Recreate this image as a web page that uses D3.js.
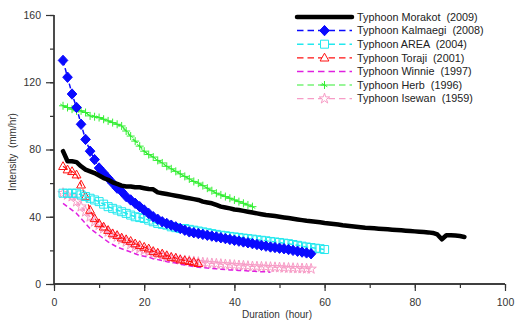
<!DOCTYPE html>
<html><head><meta charset="utf-8">
<script src="https://cdn.jsdelivr.net/npm/d3@7"></script>
<style>body{margin:0;background:#fff}svg{display:block}text{font-family:"Liberation Sans",Arial,sans-serif;white-space:pre}</style>
</head><body>
<svg id="c" width="515" height="323"></svg>
<script>
// ---- data ----
const morakotHours = d3.range(2, 92);
const morakot = [79,73,73,72.5,70,68,67,66,64.5,63,62,60.5,59.5,58.5,58,58,57.5,57.5,57,56.5,56.3,54.5,54,53.5,53,52.5,52,51.5,51,50.5,50,49,48.5,48,47,46,45.5,45,44.3,44,43.5,43,42.5,42,41.5,41,40.8,40.4,40,39.6,39.2,38.8,38.4,38,37.6,37.3,37,36.7,36.3,36,35.7,35.4,35,34.7,34.4,34.1,33.8,33.5,33.3,33.1,32.9,32.7,32.5,32.3,32.1,31.9,31.7,31.5,31.3,31.1,30.9,30.7,30.4,29.5,26.6,29,29,28.8,28.5,28];
const kalmaegiHours = d3.range(2, 58);
const kalmaegi = [133,123,113,105,95,86,79,74,69,66,63,60,57,55,52,50,48,46,44,42,40,38.5,37,36,35,34,33,32,31,30.5,30,29.5,29,28.5,28,27.5,27,26.5,26,25.5,25,24.5,24,23.5,23,22.5,22,21.7,21.3,21,20.5,20,19.5,19,18.5,18];
const areaHours = d3.range(2, 61);
const area = [54,54,54,54,53,52,51,50,49,47.5,46,45,44,43,42,41,40,39.5,39,38,37,36,35.5,35,34,33.5,33,33,32.5,32,31.5,31,30.5,30,29.5,29,28.7,28.3,28,27.7,27.3,27,26.7,26.3,26,25.7,25.3,25,24.7,24.3,24,23.5,23,22.5,22,21.7,21.3,21,20.5];
const torajiHours = d3.range(2, 33);
const toraji = [70,68,67,65,59,52,44,39,36,34,32,30,29,27.5,26.5,25.5,24,23,22,21,19.5,18.5,18,17,16,15.5,14.5,14,13.5,13,12.3];
const winnieHours = d3.range(2, 49);
const winnie = [48,46,44,42,39,36,33,31,29,27,25,23.5,22,21,20,19,18,17,16.5,16,15,14.5,14,13.3,13,12.5,11.8,11.3,10.8,10.3,10,9.8,9.5,9.3,9,8.8,8.6,8.4,8.3,8.1,8,7.8,7.6,7.5,7.3,7.2,7];
const herbHours = d3.range(2, 45);
const herb = [106,105,104,103,103,102,100,99.5,99,98,97,96,95,94,91,88,85,82,79,77,75.5,73.5,72,70,68.5,67,65.5,64,62.5,61,60,58.5,57,55.5,54,53,52,51,50,49,48,47,46];
const isewanHours = d3.range(2, 58);
const isewan = [54,53,52,49,46,43,40,37,35,33,31,29.5,28,26.5,25,23.5,22,21,20,19,18.3,17.5,16.8,16,15.5,15,14.5,14,13.7,13.4,13,12.7,12.4,12.2,12,11.8,11.6,11.4,11.2,11,10.8,10.6,10.4,10.3,10.2,10.1,10,9.9,9.8,9.6,9.5,9.4,9.3,9.2,9.1,9];
const seriesNames = ["Typhoon Morakot  (2009)","Typhoon Kalmaegi  (2008)","Typhoon AREA  (2004)","Typhoon Toraji  (2001)","Typhoon Winnie  (1997)","Typhoon Herb  (1996)","Typhoon Isewan  (1959)"];
const xTicks = [0,20,40,60,80,100];
const yTicks = [0,40,80,120,160];
const xLabel = "Duration  (hour)";
const yLabel = "Intensity  (mm/hr)";

// ---- build ----
const series = [
  {name:seriesNames[0], hours:morakotHours, vals:morakot, color:"#000000", width:4.5, dash:null, marker:null},
  {name:seriesNames[1], hours:kalmaegiHours, vals:kalmaegi, color:"#0a0aff", width:1.5, dash:"5,3", marker:"diamond"},
  {name:seriesNames[2], hours:areaHours, vals:area, color:"#22e8ee", width:1.5, dash:"5,3", marker:"square"},
  {name:seriesNames[3], hours:torajiHours, vals:toraji, color:"#ff1010", width:1.2, dash:"5,3", marker:"triangle"},
  {name:seriesNames[4], hours:winnieHours, vals:winnie, color:"#e020e0", width:1.5, dash:"5,3", marker:null},
  {name:seriesNames[5], hours:herbHours, vals:herb, color:"#33ee33", width:1.2, dash:"5,3", marker:"plus"},
  {name:seriesNames[6], hours:isewanHours, vals:isewan, color:"#f79cc6", width:1.2, dash:"5,3", marker:"star"}
];

const svg = d3.select("#c");
const x = d3.scaleLinear().domain([0,100]).range([54,505]);
const y = d3.scaleLinear().domain([0,160]).range([284,15]);

function markerPath(type){
  switch(type){
    case "diamond": return "M0,-5.2L4.8,0L0,5.2L-4.8,0Z";
    case "square": return "M-4,-4H4V4H-4Z";
    case "triangle": return "M0,-4.6L4.4,3.2L-4.4,3.2Z";
    case "plus": return "M-4,0H4M0,-4V4M-2.8,-1.8L2.8,1.8";
    case "star": return d3.symbol(d3.symbolStar, 34)();
  }
  return null;
}

const drawOrder = [6,4,5,3,2,1,0];
const line = d3.line().x(d=>x(d[0])).y(d=>y(d[1]));
const plot = svg.append("g");
drawOrder.forEach(i=>{
  const s = series[i];
  const pts = s.hours.map((h,k)=>[h, s.vals[k]]);
  const g = plot.append("g");
  g.append("path").attr("d", line(pts)).attr("fill","none")
    .attr("stroke", s.color).attr("stroke-width", s.width)
    .attr("stroke-dasharray", s.dash).attr("stroke-linejoin","round").attr("stroke-linecap", s.dash ? "butt" : "round");
  if (s.marker){
    const mp = markerPath(s.marker);
    g.selectAll("path.m").data(pts).join("path").attr("class","m")
      .attr("d", mp)
      .attr("transform", d=>`translate(${x(d[0])},${y(d[1])})`)
      .attr("fill", s.marker==="diamond" ? s.color : "none")
      .attr("stroke", s.color).attr("stroke-width", 1);
  }
});

// axes
const axisColor = "#333";
const xAxis = svg.append("g").attr("transform","translate(0,284)");
xAxis.call(d3.axisBottom(x).tickValues(d3.range(0,101,10)).tickSize(4).tickFormat(""));
xAxis.append("g").call(d3.axisBottom(x).tickValues(xTicks).tickSize(7).tickFormat(d3.format("d")));
const yAxis = svg.append("g").attr("transform","translate(54,0)");
yAxis.call(d3.axisLeft(y).tickValues(d3.range(0,161,20)).tickSize(4).tickFormat(""));
yAxis.append("g").call(d3.axisLeft(y).tickValues(yTicks).tickSize(8).tickFormat(d3.format("d")));
svg.selectAll(".domain").attr("stroke", axisColor).attr("stroke-width",1.3);
svg.selectAll(".tick line").attr("stroke", axisColor).attr("stroke-width",1.2);
svg.selectAll(".tick text").attr("fill","#333").style("font-size","10.5px").style("font-family","Liberation Sans, Arial, sans-serif");
xAxis.selectAll(".tick text").attr("dy","1em").attr("y",11);
yAxis.selectAll(".tick text").attr("x",-13);
xAxis.selectAll(".domain").attr("d","M54,0H505");
yAxis.selectAll(".domain").attr("d","M0,284V15");

svg.append("text").attr("x",277).attr("y",318).attr("text-anchor","middle")
  .attr("fill","#333").style("font-size","10px").text(xLabel);
svg.append("text").attr("transform","translate(16,152) rotate(-90)").attr("text-anchor","middle")
  .attr("fill","#333").style("font-size","10px").text(yLabel);

// legend
const leg = svg.append("g");
series.forEach((s,i)=>{
  const yy = 17 + i*13.6;
  leg.append("line").attr("x1",297).attr("x2",352).attr("y1",yy).attr("y2",yy)
    .attr("stroke", s.color).attr("stroke-width", s.width)
    .attr("stroke-dasharray", s.dash ? "6.5,4" : null).attr("stroke-linecap", s.dash ? "butt" : "round");
  if (s.marker){
    leg.append("path").attr("d", markerPath(s.marker)).attr("transform",`translate(324.5,${yy})`)
      .attr("fill", s.marker==="diamond" ? s.color : "#fff").attr("stroke", s.color).attr("stroke-width",1);
  }
  leg.append("text").attr("x",357).attr("y",yy+3.8).attr("fill","#222")
    .style("font-size","10.8px").text(s.name);
});
</script>
</body></html>
